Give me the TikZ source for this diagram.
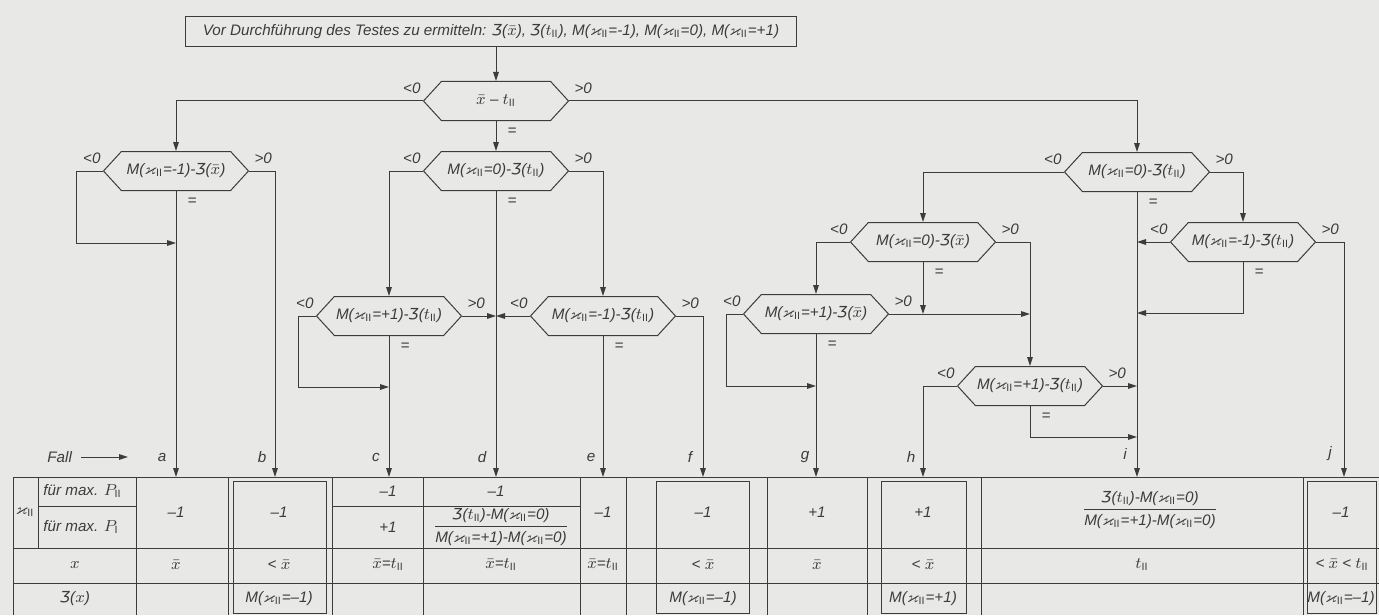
\documentclass[tikz,border=0pt]{standalone}
\usepackage{amsmath,amssymb}
\usepackage{fontspec}
\setmainfont{Liberation Sans}
\newfontfamily\ezh{DejaVu Sans}
\usetikzlibrary{shapes.symbols,arrows.meta}

\newcommand{\Zz}{{\ezh\itshape Ʒ}}
\newcommand{\kII}{$\varkappa_{\mathrm{II}}$}
\newcommand{\tII}{$t_{\mathrm{II}}$}
\newcommand{\xq}{$\bar{x}$}

\definecolor{papier}{RGB}{232,232,230}
\definecolor{tinte}{RGB}{60,60,60}

\tikzset{
  flnode/.style = {align=center, inner sep=0pt, text=tinte,
    font=\itshape\fontsize{7.6}{9}\selectfont},
  fl_hex/.style = {flnode, shape=signal, signal to=west and east,
    signal pointer angle=95, draw=tinte, line width=0.5pt,
    minimum width=72.5pt, minimum height=19.5pt},% Entscheidung
  fl_box/.style = {flnode, rectangle, draw=tinte, line width=0.5pt,
    minimum width=305.5pt, minimum height=15pt},% Vorgabe
  fl_lbl/.style = {flnode},% <0, >0, =
  fl_cell/.style = {flnode},% Tabellenfeld
  fl_arr/.style = {draw=tinte, line width=0.5pt,
    -{Triangle[length=4.5pt,width=2.8pt]}},% Pfeil
  fl_line/.style = {draw=tinte, line width=0.5pt}% Tabellenlinie
}

\begin{document}
\begin{tikzpicture}[x=0.5pt, y=-0.5pt]
  \fill[papier] (0,0) rectangle (1379,615);
  \useasboundingbox (0,0) rectangle (1379,615);

  % Vorgabe
  \node [fl_box] (vor) at (491,32)
    {Vor Durchf\"uhrung des Testes zu ermitteln: \Zz(\xq), \Zz(\tII), M(\kII=-1), M(\kII=0), M(\kII=+1)};

  % Entscheidungen
  \node [fl_hex] (hmain) at (496,101) {\xq{} -- \tII};
  \node [fl_hex] (hl1) at (176,171) {M(\kII=-1)-\Zz(\xq)};
  \node [fl_hex] (hm1) at (496,171) {M(\kII=0)-\Zz(\tII)};
  \node [fl_hex] (hm2) at (389,316) {M(\kII=+1)-\Zz(\tII)};
  \node [fl_hex] (hm3) at (603,316) {M(\kII=-1)-\Zz(\tII)};
  \node [fl_hex] (hr1) at (1137,172) {M(\kII=0)-\Zz(\tII)};
  \node [fl_hex] (hr2) at (1243,242) {M(\kII=-1)-\Zz(\tII)};
  \node [fl_hex] (hr3) at (923,242) {M(\kII=0)-\Zz(\xq)};
  \node [fl_hex] (hr4) at (816,314) {M(\kII=+1)-\Zz(\xq)};
  \node [fl_hex] (hr5) at (1030,386) {M(\kII=+1)-\Zz(\tII)};

  % <0, >0, =
  \node [fl_lbl] (hmain_lt) at ([shift={(-11,-13)}]hmain.west) {<0};
  \node [fl_lbl] (hmain_gt) at ([shift={(14,-13)}]hmain.east) {>0};
  \node [fl_lbl] (hmain_eq) at ([shift={(16,11)}]hmain.south) {=};
  \node [fl_lbl] (hl1_lt) at ([shift={(-11,-13)}]hl1.west) {<0};
  \node [fl_lbl] (hl1_gt) at ([shift={(14,-13)}]hl1.east) {>0};
  \node [fl_lbl] (hl1_eq) at ([shift={(16,11)}]hl1.south) {=};
  \node [fl_lbl] (hm1_lt) at ([shift={(-11,-13)}]hm1.west) {<0};
  \node [fl_lbl] (hm1_gt) at ([shift={(14,-13)}]hm1.east) {>0};
  \node [fl_lbl] (hm1_eq) at ([shift={(16,11)}]hm1.south) {=};
  \node [fl_lbl] (hm2_lt) at ([shift={(-11,-13)}]hm2.west) {<0};
  \node [fl_lbl] (hm2_gt) at ([shift={(14,-13)}]hm2.east) {>0};
  \node [fl_lbl] (hm2_eq) at ([shift={(16,11)}]hm2.south) {=};
  \node [fl_lbl] (hm3_lt) at ([shift={(-11,-13)}]hm3.west) {<0};
  \node [fl_lbl] (hm3_gt) at ([shift={(14,-13)}]hm3.east) {>0};
  \node [fl_lbl] (hm3_eq) at ([shift={(16,11)}]hm3.south) {=};
  \node [fl_lbl] (hr1_lt) at ([shift={(-11,-13)}]hr1.west) {<0};
  \node [fl_lbl] (hr1_gt) at ([shift={(14,-13)}]hr1.east) {>0};
  \node [fl_lbl] (hr1_eq) at ([shift={(16,11)}]hr1.south) {=};
  \node [fl_lbl] (hr2_lt) at ([shift={(-11,-13)}]hr2.west) {<0};
  \node [fl_lbl] (hr2_gt) at ([shift={(14,-13)}]hr2.east) {>0};
  \node [fl_lbl] (hr2_eq) at ([shift={(16,11)}]hr2.south) {=};
  \node [fl_lbl] (hr3_lt) at ([shift={(-11,-13)}]hr3.west) {<0};
  \node [fl_lbl] (hr3_gt) at ([shift={(14,-13)}]hr3.east) {>0};
  \node [fl_lbl] (hr3_eq) at ([shift={(16,11)}]hr3.south) {=};
  \node [fl_lbl] (hr4_lt) at ([shift={(-11,-13)}]hr4.west) {<0};
  \node [fl_lbl] (hr4_gt) at ([shift={(14,-13)}]hr4.east) {>0};
  \node [fl_lbl] (hr4_eq) at ([shift={(16,11)}]hr4.south) {=};
  \node [fl_lbl] (hr5_lt) at ([shift={(-11,-13)}]hr5.west) {<0};
  \node [fl_lbl] (hr5_gt) at ([shift={(14,-13)}]hr5.east) {>0};
  \node [fl_lbl] (hr5_eq) at ([shift={(16,11)}]hr5.south) {=};

  % Faelle
  \coordinate (fa) at (176,477);
  \coordinate (fb) at (275,477);
  \coordinate (fc) at (389,477);
  \coordinate (fd) at (496,477);
  \coordinate (fe) at (603,477);
  \coordinate (ff) at (703,477);
  \coordinate (fg) at (816,477);
  \coordinate (fh) at (923,477);
  \coordinate (fi) at (1137,477);
  \coordinate (fj) at (1344,477);
  \node [fl_lbl] (la) at (162,457) {a};
  \node [fl_lbl] (lb) at (262,457) {b};
  \node [fl_lbl] (lc) at (376,457) {c};
  \node [fl_lbl] (ld) at (482,457) {d};
  \node [fl_lbl] (le) at (591,457) {e};
  \node [fl_lbl] (lf) at (690,457) {f};
  \node [fl_lbl] (lg) at (805,457) {g};
  \node [fl_lbl] (lh) at (911,457) {h};
  \node [fl_lbl] (li) at (1125,454) {i};
  \node [fl_lbl] (lj) at (1330,454) {j};
  \node [fl_lbl, anchor=west] (fall) at (47,457) {Fall};
  \coordinate (fall_end) at (128,457);
  \draw [fl_arr] (fall.east) ++(9,0) -- (fall_end);

  % Verbindungspunkte
  \coordinate (jl1) at (176,243);
  \coordinate (jm1) at (496,316);
  \coordinate (jm2) at (389,387);
  \coordinate (jr1a) at (1137,242);
  \coordinate (jr1b) at (1137,313);
  \coordinate (jr1c) at (1137,386);
  \coordinate (jr1d) at (1137,437);
  \coordinate (jr3) at (923,314);
  \coordinate (jr4) at (1030,314);
  \coordinate (jr4b) at (816,386);

  % Verbindungen
  \draw [fl_arr] (hmain.north |- vor.south) -- (hmain.north);
  \draw [fl_arr] (hmain.west) -| (hl1.north);
  \draw [fl_arr] (hmain.south) -- (hm1.north);
  \draw [fl_arr] (hmain.east) -| (hr1.north);

  \draw [fl_arr] (hl1.west) -- ++(-26,0) |- (jl1);
  \draw [fl_arr] (hl1.south) -- (fa);
  \draw [fl_arr] (hl1.east) -| (fb);

  \draw [fl_arr] (hm1.west) -| (hm2.north);
  \draw [fl_arr] (hm1.east) -| (hm3.north);
  \draw [fl_arr] (hm1.south) -- (fd);
  \draw [fl_arr] (hm2.west) -- ++(-17,0) |- (jm2);
  \draw [fl_arr] (hm2.south) -- (fc);
  \draw [fl_arr] (hm2.east) -- (jm1);
  \draw [fl_arr] (hm3.west) -- (jm1);
  \draw [fl_arr] (hm3.south) -- (fe);
  \draw [fl_arr] (hm3.east) -| (ff);

  \draw [fl_arr] (hr1.west) -| (hr3.north);
  \draw [fl_arr] (hr1.east) -| (hr2.north);
  \draw [fl_arr] (hr1.south) -- (fi);
  \draw [fl_arr] (hr2.west) -- (jr1a);
  \draw [fl_arr] (hr2.south) |- (jr1b);
  \draw [fl_arr] (hr2.east) -| (fj);
  \draw [fl_arr] (hr3.west) -| (hr4.north);
  \draw [fl_arr] (hr3.south) -- (jr3);
  \draw [fl_arr] (hr3.east) -| (hr5.north);
  \draw [fl_arr] (hr4.east) -- (jr4);
  \draw [fl_arr] (hr4.west) -- ++(-16,0) |- (jr4b);
  \draw [fl_arr] (hr4.south) -- (fg);
  \draw [fl_arr] (hr5.west) -| (fh);
  \draw [fl_arr] (hr5.east) -- (jr1c);
  \draw [fl_arr] (hr5.south) |- (jr1d);

  % Tabelle
  \draw [fl_line] (13,477) -- (1379,477) (13,548) -- (1379,548) (13,583) -- (1379,583)
    (38,506) -- (136,506) (332,506) -- (580,506);
  \draw [fl_line] (13,477) -- (13,615) (38,477) -- (38,548) (136,477) -- (136,615)
    (228,477) -- (228,615) (332,477) -- (332,615) (423,477) -- (423,615)
    (580,477) -- (580,615) (626,477) -- (626,615) (767,477) -- (767,615)
    (867,477) -- (867,615) (981,477) -- (981,615) (1303,477) -- (1303,615);
  \draw [fl_line] (233,481) rectangle (326,613) (656,481) rectangle (749,613)
    (881,481) rectangle (966,613) (1307,481) rectangle (1376,613);

  \node [fl_cell] (t_k) at (25,512) {\kII};
  \node [fl_cell, anchor=west] (t_p2) at (43,491) {f\"ur max. $P_{\mathrm{II}}$};
  \node [fl_cell, anchor=west] (t_p1) at (43,527) {f\"ur max. $P_{\mathrm{I}}$};
  \node [fl_cell] (t_x) at (75,565) {$x$};
  \node [fl_cell] (t_z) at (75,599) {\Zz($x$)};

  \node [fl_cell] (a_1) at (176,512) {--1};
  \node [fl_cell] (a_2) at (176,565) {\xq};
  \node [fl_cell] (b_1) at (279,512) {--1};
  \node [fl_cell] (b_2) at (279,565) {< \xq};
  \node [fl_cell] (b_3) at (279,599) {M(\kII=--1)};
  \node [fl_cell] (c_1) at (388,491) {--1};
  \node [fl_cell] (c_2) at (388,527) {+1};
  \node [fl_cell] (c_3) at (388,565) {\xq=\tII};
  \node [fl_cell] (d_1) at (496,491) {--1};
  \node [fl_cell] (d_2) at (501,527)
    {$\dfrac{\text{\Zz(\tII)-M(\kII=0)}}{\text{M(\kII=+1)-M(\kII=0)}}$};
  \node [fl_cell] (d_3) at (501,565) {\xq=\tII};
  \node [fl_cell] (e_1) at (603,512) {--1};
  \node [fl_cell] (e_3) at (603,565) {\xq=\tII};
  \node [fl_cell] (f_1) at (703,512) {--1};
  \node [fl_cell] (f_2) at (703,565) {< \xq};
  \node [fl_cell] (f_3) at (703,599) {M(\kII=--1)};
  \node [fl_cell] (g_1) at (817,512) {+1};
  \node [fl_cell] (g_2) at (817,565) {\xq};
  \node [fl_cell] (h_1) at (923,512) {+1};
  \node [fl_cell] (h_2) at (923,565) {< \xq};
  \node [fl_cell] (h_3) at (923,599) {M(\kII=+1)};
  \node [fl_cell] (i_1) at (1150,510)
    {$\dfrac{\text{\Zz(\tII)-M(\kII=0)}}{\text{M(\kII=+1)-M(\kII=0)}}$};
  \node [fl_cell] (i_2) at (1142,565) {\tII};
  \node [fl_cell] (j_1) at (1341,512) {--1};
  \node [fl_cell] (j_2) at (1342,565) {< \xq{} < \tII};
  \node [fl_cell] (j_3) at (1341,599) {M(\kII=--1)};
\end{tikzpicture}
\end{document}
